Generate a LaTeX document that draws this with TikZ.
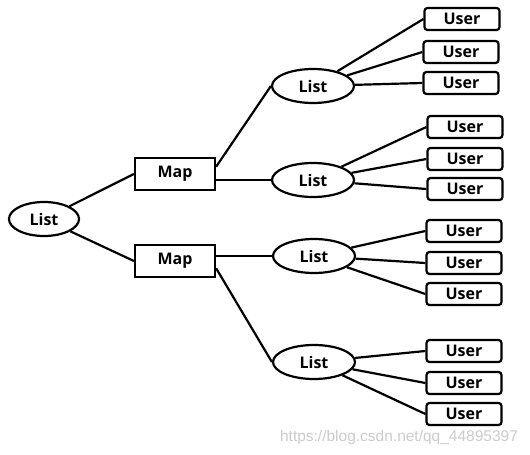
\documentclass[tikz,border=0pt]{standalone}
\usepackage{fontspec}
\setmainfont{Open Sans}
\newfontfamily\markfont{Liberation Sans}
\usetikzlibrary{shapes.geometric}
\begin{document}
\begin{tikzpicture}[x=1pt,y=-1pt,line width=2.2pt,
    listnode/.style={draw,ellipse,minimum width=82pt,minimum height=34pt,inner sep=0pt,font=\fontsize{16}{18}\selectfont\bfseries},
    mapnode/.style={draw,rectangle,minimum width=80pt,minimum height=32pt,inner sep=0pt,font=\fontsize{16}{18}\selectfont\bfseries},
    usernode/.style={draw,rectangle,rounded corners=3pt,minimum width=75pt,minimum height=22pt,inner sep=0pt,font=\fontsize{16}{18}\selectfont\bfseries}]
        \useasboundingbox[fill=white] (0,0) rectangle (530,455);

        % Root list
        \node[listnode,minimum width=70pt] (root) at (44,219) {List};

        % Maps
        \node[mapnode] (map1) at (175,174) {Map};
        \node[mapnode] (map2) at (175,261) {Map};

        % Inner lists
        \node[listnode] (list1) at (313,86) {List};
        \node[listnode] (list2) at (313,180) {List};
        \node[listnode] (list3) at (314,256) {List};
        \node[listnode] (list4) at (314,362) {List};

        % Users
        \node[usernode] (u11) at (462,19) {User};
        \node[usernode] (u12) at (461,52) {User};
        \node[usernode] (u13) at (461,83) {User};
        \node[usernode] (u21) at (465,127) {User};
        \node[usernode] (u22) at (465,159) {User};
        \node[usernode] (u23) at (465,189) {User};
        \node[usernode] (u31) at (464,231) {User};
        \node[usernode] (u32) at (464,263) {User};
        \node[usernode] (u33) at (464,294) {User};
        \node[usernode] (u41) at (464,351) {User};
        \node[usernode] (u42) at (464,383) {User};
        \node[usernode] (u43) at (464,414) {User};

        % Root to maps
        \draw (root) -- (map1.west);
        \draw (root) -- (map2.west);

        % Maps to lists
        \draw (map1.10) -- (list1.west);
        \draw (map1.east |- list2.west) -- (list2.west);
        \draw (map2.east |- list3.west) -- (list3.west);
        \draw (map2.-10) -- (list4.west);

        % Lists to users
        \foreach \i in {1,...,4}
            \foreach \j in {1,2,3}
                \draw (list\i) -- (u\i\j.west);

        % Watermark
        \node[text=black!20,font=\markfont\fontsize{15.5}{17}\selectfont] (mark) at (399,437) {https://blog.csdn.net/qq\_44895397};
    \end{tikzpicture}
\end{document}
